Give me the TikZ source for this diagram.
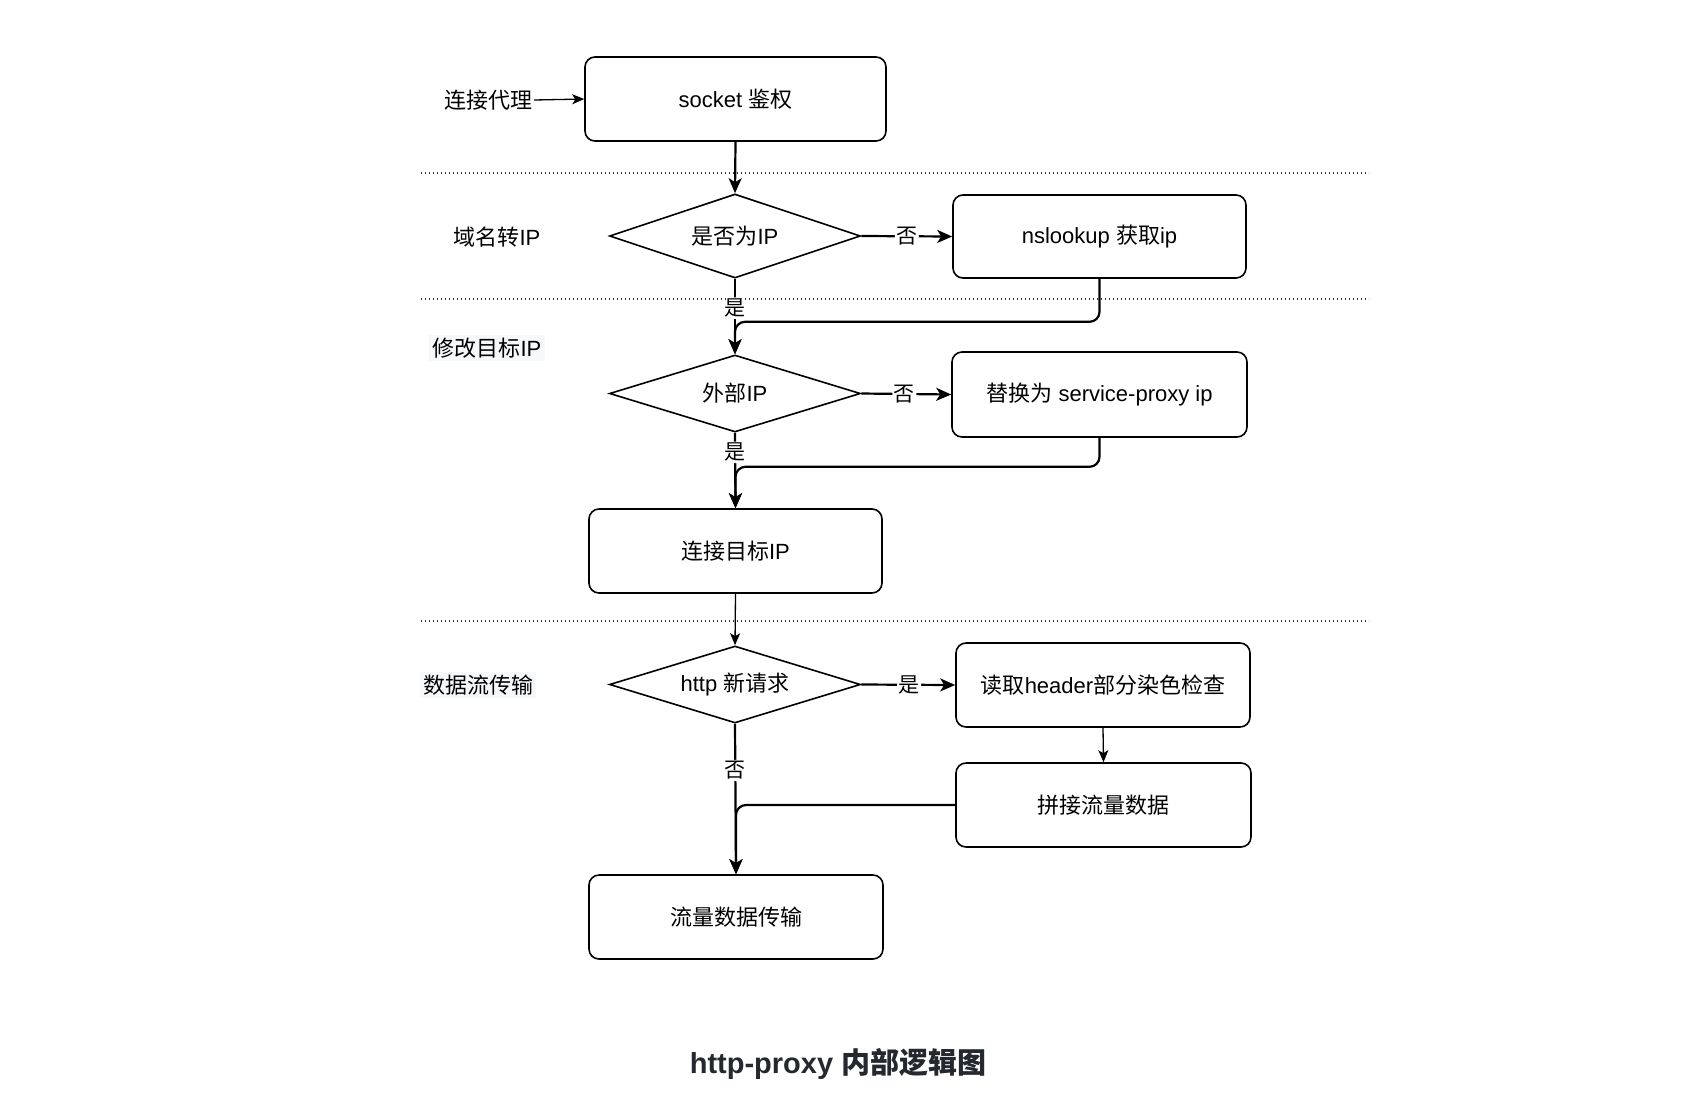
\documentclass[tikz,border=0pt]{standalone}
\usepackage{fontspec}
\setmainfont{Liberation Sans}
\newfontfamily\cjk{Noto Sans CJK SC}
\newcommand{\zh}[1]{{\cjk #1}}
\usetikzlibrary{arrows.meta,shapes.geometric}

\definecolor{lanebg}{RGB}{246,248,250}
\definecolor{captionfg}{RGB}{36,41,47}

\tikzset{
  txt/.style={font=\fontsize{22}{26}\selectfont, text=black},
  stepbox/.style={txt, draw, line width=1.6pt, rounded corners=10pt, inner sep=0pt},
  decision/.style={txt, draw, line width=1.6pt, diamond, aspect=3, inner sep=0pt,
    minimum width=251pt},
  lane/.style={txt, inner sep=1pt},
  flow/.style={line width=2.2pt, rounded corners=10pt,
    -{Stealth[length=15pt, width=13pt, inset=4pt]}},
  thinflow/.style={line width=1.3pt,
    -{Stealth[length=12pt, width=10pt, inset=3pt]}},
  elabel/.style={font=\fontsize{21}{24}\selectfont, fill=white, inner sep=1.5pt, text=black},
  sep/.style={line width=1.4pt, black!80, dash pattern=on 1.4pt off 2.6pt},
}

\begin{document}
\begin{tikzpicture}[x=1pt, y=-1pt]
  \useasboundingbox (0,0) rectangle (1684,1104);
  \fill[white] (0,0) rectangle (1684,1104);

  % lane separators
  \draw[sep] (421,173) -- (1369,173);
  \draw[sep] (421,299) -- (1369,299);
  \draw[sep] (421,621) -- (1369,621);

  % lane labels
  \node[lane, anchor=east] (l1) at (534,100) {\zh{连接代理}};
  \node[lane] (l2) at (497,237) {\zh{域名转}IP};
  \node[lane, fill=lanebg, inner xsep=4pt, inner ysep=3pt] (l3) at (487,348) {\zh{修改目标}IP};
  \node[lane, fill=lanebg, inner xsep=3pt, inner ysep=3pt] (l4) at (478,685) {\zh{数据流传输}};

  % steps
  \node[stepbox, minimum width=301pt, minimum height=84pt] (sock) at (735.5,99) {socket \zh{鉴权}};
  \node[decision, minimum height=84pt] (d1) at (735,236) {\zh{是否为}IP};
  \node[stepbox, minimum width=293pt, minimum height=83pt] (ns) at (1099.5,236.5) {nslookup \zh{获取}ip};
  \node[decision, minimum height=77pt] (d2) at (735,393.5) {\zh{外部}IP};
  \node[stepbox, minimum width=295pt, minimum height=85pt] (rep) at (1099.5,394.5) {\zh{替换为} service-proxy ip};
  \node[stepbox, minimum width=293pt, minimum height=84pt] (conn) at (735.5,551) {\zh{连接目标}IP};
  \node[decision, minimum height=77pt] (d3) at (735,684.5) {http \zh{新请求}};
  \node[stepbox, minimum width=294pt, minimum height=84pt] (hdr) at (1103,685) {\zh{读取}header\zh{部分染色检查}};
  \node[stepbox, minimum width=295pt, minimum height=84pt] (join) at (1103.5,805) {\zh{拼接流量数据}};
  \node[stepbox, minimum width=294pt, minimum height=84pt] (xfer) at (736,917) {\zh{流量数据传输}};

  % connectors
  \draw[thinflow] (l1.east) -- (sock.west);
  \draw[flow] (sock.south) -- (d1.north);
  \draw[flow] (d1.east) -- node[elabel, pos=0.5] {\zh{否}} (ns.west);
  \draw[flow] (ns.south) -- ++(0,43) -| (d2.north);
  \draw[flow] (d1.south) -- node[elabel, pos=0.39] {\zh{是}} (d2.north);
  \draw[flow] (d2.east) -- node[elabel, pos=0.48] {\zh{否}} (rep.west);
  \draw[flow] (rep.south) -- ++(0,29) -| (conn.north);
  \draw[flow] (d2.south) -- node[elabel, pos=0.26] {\zh{是}} (conn.north);
  \draw[thinflow] (conn.south) -- (d3.north);
  \draw[flow] (d3.east) -- node[elabel, pos=0.51] {\zh{是}} (hdr.west);
  \draw[thinflow] (hdr.south) -- (join.north);
  \draw[flow] (join.west) -| (xfer.north);
  \draw[flow] (d3.south) -- node[elabel, pos=0.31] {\zh{否}} (xfer.north);

  % caption
  \node[font=\fontsize{29}{34}\selectfont\bfseries, text=captionfg]
    (title) at (838,1064) {http-proxy \zh{内部逻辑图}};
\end{tikzpicture}
\end{document}
